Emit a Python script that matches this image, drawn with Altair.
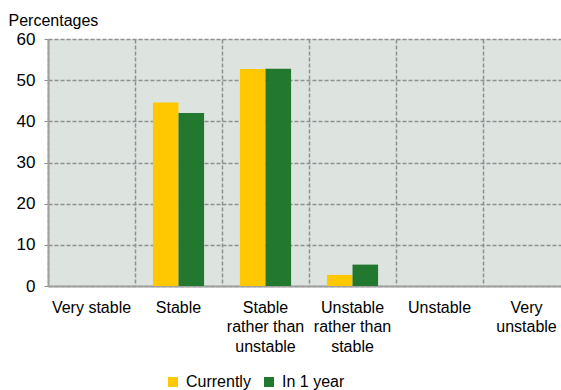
import altair as alt
import pandas as pd

categories = ["Very stable", "Stable", "Stable rather than unstable",
              "Unstable rather than stable", "Unstable", "Very unstable"]
category_lines = {
    "Stable rather than unstable": ["Stable", "rather than", "unstable"],
    "Unstable rather than stable": ["Unstable", "rather than", "stable"],
    "Very unstable": ["Very", "unstable"],
}
series = ["Currently", "In 1 year"]
currently = [0, 44.6, 52.7, 2.7, 0, 0]
in_1_year = [0, 42.0, 52.8, 5.2, 0, 0]
colors = ["#FFC800", "#23782F"]
y_ticks = [0, 10, 20, 30, 40, 50, 60]

rows = []
for c, a, b in zip(categories, currently, in_1_year):
    rows.append({"category": c, "series": series[0], "value": a})
    rows.append({"category": c, "series": series[1], "value": b})
df = pd.DataFrame(rows)

expr = "datum.value"
for k, lines in category_lines.items():
    arr = "[" + ",".join("'" + s + "'" for s in lines) + "]"
    expr = f"datum.value == '{k}' ? {arr} : ({expr})"

FONT = "Liberation Sans"
GRID = "#8f8f8f"

chart = alt.Chart(df).mark_bar().encode(
    x=alt.X("category:N", sort=categories,
            scale=alt.Scale(paddingInner=0, paddingOuter=0),
            axis=alt.Axis(title=None, labelAngle=0, ticks=False, grid=True,
                          bandPosition=0, gridDash=[4, 2], gridColor=GRID,
                          gridWidth=1.5, domainColor="#a0a0a0", domainWidth=2,
                          labelFont=FONT, labelFontSize=16, labelColor="#000",
                          labelPadding=13, labelLineHeight=19.5, labelExpr=expr,
                          labelBaseline="top")),
    xOffset=alt.XOffset("series:N", sort=series,
                        scale=alt.Scale(paddingOuter=0.7, paddingInner=0)),
    y=alt.Y("value:Q", scale=alt.Scale(domain=[0, 60], nice=False),
            axis=alt.Axis(values=y_ticks, title="Percentages", titleAngle=0,
                          titleX=-40, titleY=-14, titleAlign="left",
                          titleBaseline="alphabetic", titleFont=FONT,
                          titleFontSize=16, titleFontWeight="normal",
                          titleColor="#000", labelFont=FONT, labelFontSize=17,
                          labelColor="#000", labelPadding=9, tickSize=4,
                          tickColor=GRID, gridDash=[4, 2], gridColor=GRID,
                          gridWidth=1.5, domainColor="#a0a0a0", domainWidth=2)),
    color=alt.Color("series:N", sort=series,
                    scale=alt.Scale(domain=series, range=colors),
                    legend=alt.Legend(orient="none", legendX=117, legendY=335,
                                      direction="horizontal", title=None,
                                      symbolType="square", symbolSize=100,
                                      symbolStrokeWidth=0, labelFont=FONT,
                                      labelFontSize=16, labelColor="#000",
                                      labelOffset=5, columnPadding=10)),
).properties(
    width=522, height=247,
    autosize="none",
    padding={"left": 48, "top": 39, "right": -9, "bottom": 104},
).configure_view(fill="#DDE4E0", stroke=None)

chart.save("out.html", embed_options={"renderer": "svg", "actions": False})
